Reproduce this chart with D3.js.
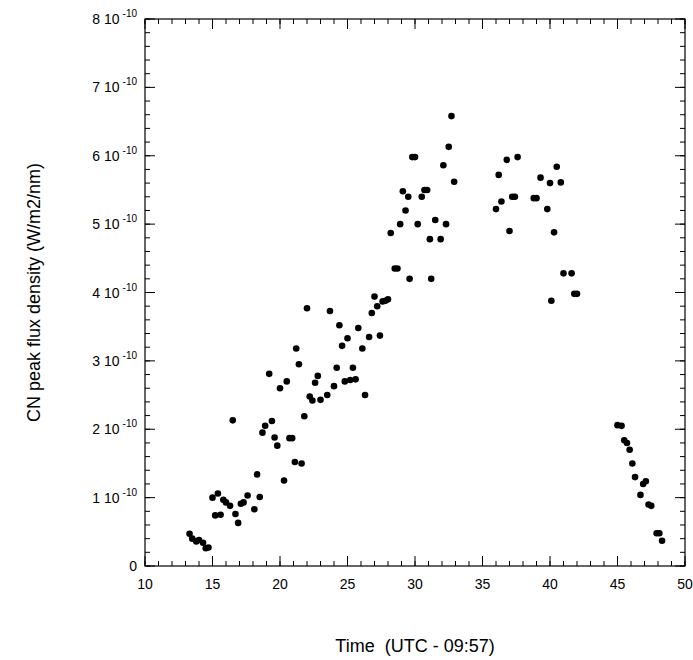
<!DOCTYPE html>
<html><head><meta charset="utf-8"/>
<script src="https://d3js.org/d3.v7.min.js"></script>
<style>
body{margin:0;background:#fff;font-family:"Liberation Sans",Arial,sans-serif;}
</style></head>
<body><svg id="c" width="693" height="660"></svg>
<script>
// time (UTC - 09:57) and CN peak flux density (units of 1e-10 W/m2/nm)
const times = [13.3,13.5,13.8,14.0,14.3,14.5,14.7,15.0,15.2,15.4,15.6,15.8,16.0,16.3,16.5,16.7,16.9,17.1,17.3,17.6,18.1,18.3,18.5,
 18.7,18.9,19.2,19.4,19.6,19.8,20.0,20.3,20.5,20.7,20.9,21.1,21.2,21.4,21.6,21.8,22.0,22.2,22.4,22.6,22.8,23.0,23.5,23.7,24.0,24.2,24.4,24.6,24.8,25.0,25.2,25.4,25.6,25.8,26.1,26.3,26.6,26.8,27.0,27.2,27.4,27.6,27.8,28.0,28.2,28.5,28.7,28.9,29.1,29.3,29.6,29.5,29.8,30.0,30.2,30.5,30.7,30.9,31.1,31.2,31.5,31.9,32.1,32.3,32.5,32.7,32.9,
 36.0,36.2,36.4,36.8,37.0,37.2,37.4,37.6,38.8,39.0,39.3,39.8,40.0,40.1,40.3,40.5,40.8,41.0,41.6,41.8,42.0,
 45.0,45.3,45.5,45.7,45.9,46.1,46.3,46.7,46.9,47.1,47.3,47.5,47.9,48.1,48.3];
const flux = [0.47,0.40,0.36,0.38,0.34,0.26,0.27,1.00,0.74,1.06,0.75,0.97,0.93,0.88,2.13,0.76,0.63,0.91,0.93,1.03,0.83,1.34,1.01,
 1.95,2.05,2.81,2.12,1.88,1.76,2.60,1.25,2.70,1.87,1.87,1.52,3.18,2.95,1.50,2.19,3.77,2.48,2.42,2.68,2.78,2.43,2.50,3.73,2.63,2.90,3.52,3.22,2.70,3.33,2.72,2.90,2.73,3.48,3.18,2.50,3.35,3.70,3.94,3.80,3.37,3.87,3.88,3.90,4.87,4.35,4.35,5.00,5.48,5.20,4.20,5.40,5.98,5.98,5.00,5.40,5.50,5.50,4.78,4.20,5.06,4.78,5.86,5.00,6.13,6.58,5.62,
 5.22,5.72,5.33,5.94,4.90,5.40,5.40,5.98,5.38,5.38,5.68,5.22,5.60,3.88,4.88,5.84,5.61,4.28,4.28,3.98,3.98,
 2.06,2.05,1.84,1.80,1.70,1.50,1.30,1.04,1.20,1.24,0.90,0.88,0.48,0.48,0.37];
const xTicks = [10,15,20,25,30,35,40,45,50];
const yTicks = [0,1,2,3,4,5,6,7,8];

const svg = d3.select("#c");
const L=145,R=685,T=19,B=566;
const x = d3.scaleLinear().domain([10,50]).range([L,R]);
const y = d3.scaleLinear().domain([0,8]).range([B,T]);

const g = svg.append("g");
// inward ticks on all four sides
const minX = d3.range(10,50.01,1), minY = d3.range(0,8.01,0.2);
function tk(v,len,isX){
  const p = isX ? x(v) : y(v);
  if(isX){
    g.append("line").attr("x1",p).attr("x2",p).attr("y1",B).attr("y2",B-len).attr("stroke","#000");
    g.append("line").attr("x1",p).attr("x2",p).attr("y1",T).attr("y2",T+len).attr("stroke","#000");
  } else {
    g.append("line").attr("y1",p).attr("y2",p).attr("x1",L).attr("x2",L+len).attr("stroke","#000");
    g.append("line").attr("y1",p).attr("y2",p).attr("x1",R).attr("x2",R-len).attr("stroke","#000");
  }
}
minX.forEach(v=>tk(v,5,true));
xTicks.forEach(v=>tk(v,10,true));
minY.forEach(v=>tk(v,5,false));
yTicks.forEach(v=>tk(v,10,false));
g.append("rect").attr("x",L).attr("y",T).attr("width",R-L).attr("height",B-T)
 .attr("fill","none").attr("stroke","#000").attr("stroke-width",1.2);

xTicks.forEach(v=>g.append("text").attr("x",x(v)).attr("y",B+23).attr("text-anchor","middle")
 .attr("font-size",14).text(v));
yTicks.forEach(v=>{
  if(v===0){ g.append("text").attr("x",L-8).attr("y",y(v)+5).attr("text-anchor","end").attr("font-size",14).text("0"); return; }
  const t = g.append("text").attr("x",L-8).attr("y",y(v)+5).attr("text-anchor","end").attr("font-size",14);
  t.append("tspan").text(v+" 10");
  t.append("tspan").attr("dx",3).attr("dy",-7).attr("font-size",10).text("-10");
});

svg.append("text").attr("x",x(30)).attr("y",652).attr("text-anchor","middle").attr("font-size",18)
 .attr("xml:space","preserve").text("Time  (UTC - 09:57)");
svg.append("text").attr("transform",`translate(40,${(T+B)/2}) rotate(-90)`).attr("text-anchor","middle")
 .attr("font-size",18).text("CN peak flux density (W/m2/nm)");

svg.append("g").selectAll("circle").data(times).join("circle")
 .attr("cx",(d)=>x(d)).attr("cy",(d,i)=>y(flux[i])).attr("r",3.3).attr("fill","#000");
</script></body></html>
